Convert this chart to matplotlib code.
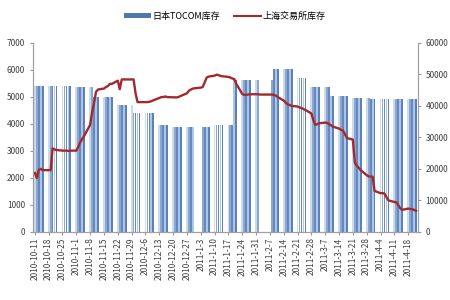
import numpy as np
import pandas as pd
import matplotlib
matplotlib.use('Agg')
import matplotlib.pyplot as plt
from matplotlib.patches import Patch
from matplotlib.lines import Line2D

plt.rcParams['font.family'] = ['Noto Sans CJK SC', 'DejaVu Sans']

nan = np.nan

# weekly tick labels (Mondays)
week_labels = ['2010-10-11', '2010-10-18', '2010-10-25', '2010-11-1', '2010-11-8',
               '2010-11-15', '2010-11-22', '2010-11-29', '2010-12-6', '2010-12-13',
               '2010-12-20', '2010-12-27', '2011-1-3', '2011-1-10', '2011-1-17',
               '2011-1-24', '2011-1-31', '2011-2-7', '2011-2-14', '2011-2-21',
               '2011-2-28', '2011-3-7', '2011-3-14', '2011-3-21', '2011-3-28',
               '2011-4-4', '2011-4-11', '2011-4-18']

# TOCOM stocks (left axis), Mon..Fri for each week
tocom = [
    5400, 5400, 5400, 5400, 5400,
    5400, 5400, 5400, 5400, 5400,
    5400, 5400, 5400, 5400, 5400,
    5350, 5350, 5350, 5350, 5350,
    5350, 5350, 5000, 5000, 5000,
    5000, 5000, 5000, 5000, 5000,
    4700, 4700, 4700, 4700, 4700,
    4700, 4400, 4400, 4400, 4400,
    4400, 4400, 4400, 4400, 4400,
    3950, 3950, 3950, 3950, 3950,
    3890, 3890, 3890, 3890, 3890,
    3890, 3890, 3890, 3890, nan,
    nan, 3890, 3890, 3890, 3890,
    3950, 3950, 3950, 3950, 3950,
    3950, 3950, 3950, 5630, 5630,
    5630, 5630, 5630, 5630, 5630,
    5630, 5630, nan, nan, nan,
    nan, 5630, 6040, 6040, 6040,
    6040, 6040, 6040, 6040, 6040,
    5700, 5700, 5700, 5700, 5700,
    5370, 5370, 5370, 5370, 5370,
    5370, 5370, 5370, 5030, 5030,
    5030, 5030, 5030, 5030, 5030,
    4960, 4960, 4960, 4960, 4960,
    4960, 4960, 4920, 4920, 4920,
    4920, 4920, 4920, 4920, 4920,
    4920, 4920, 4920, 4920, 4920,
    4920, 4920, 4920, 4920, 4920,
]

# Shanghai exchange stocks (right axis), Mon..Fri for each week
shfe = [
    18700, 17100, 19700, 20000, 19600,
    19600, 19600, 26500, 26200, 26000,
    25800, 25800, 25800, 25700, 25800,
    25800, 27000, 28500, 29500, 30500,
    34000, 38000, 41000, 44500, 45200,
    45500, 46000, 46300, 47000, 47000,
    48000, 45300, 48400, 48400, 48400,
    48400, 48400, 44000, 41200, 41200,
    41200, 41200, 41300, 41500, 41800,
    42500, 42800, 42800, 43000, 42800,
    42700, 42700, 42700, 42900, 43200,
    44000, 44800, 45200, 45500, 45600,
    45800, 46000, 47500, 49000, 49300,
    49600, 49900, 49800, 49500, 49400,
    49200, 49000, 48700, 48500, 47000,
    43800, 43500, 43500, 43600, 43700,
    43700, 43700, 43600, 43600, 43600,
    43600, 43600, 43500, 43300, 42800,
    41700, 41000, 40500, 40300, 40000,
    39800, 39500, 39300, 39000, 38700,
    37600, 35500, 34000, 34200, 34500,
    34700, 34600, 34200, 33800, 33400,
    32800, 32400, 32200, 31000, 29800,
    29300, 22000, 21000, 20300, 19600,
    18000, 17600, 17600, 17500, 13000,
    12300, 12300, 12200, 11000, 10000,
    9500, 9400, 8500, 7500, 7000,
    7400, 7300, 7200, 7000, 6700,
]

days = pd.bdate_range('2010-10-11', '2011-04-22')
tick_dates = pd.date_range('2010-10-11', '2011-04-18', freq='7D')

# mixed light/dark blues, like the gradient bars of the original
bar_colors = ['#ccdaee', '#88a8d2', '#6589be', '#afc5e3', '#5a81ba']
colors = [bar_colors[d.weekday()] for d in days]

fig = plt.figure(figsize=(4.5, 3), dpi=100)
ax = fig.add_axes([0.073, 0.227, 0.856, 0.63])
ax2 = ax.twinx()

ax.bar(days, tocom, width=0.9, color=colors, align='center')
ax2.plot(days, shfe, color='#a12a2e', linewidth=1.7)

ax.set_xlim(pd.Timestamp('2010-10-10'), pd.Timestamp('2011-04-23'))
ax.set_ylim(0, 7000)
ax2.set_ylim(0, 60000)
ax.set_yticks(range(0, 7001, 1000))
ax2.set_yticks(range(0, 60001, 10000))

ax.set_xticks(tick_dates)
ax.set_xticklabels(week_labels, rotation=90, fontsize=6, color='#404040')
ax.tick_params(axis='x', length=2, color='#999999', pad=2)
ax.tick_params(axis='y', labelsize=6, length=2, color='#999999', labelcolor='#404040')
ax2.tick_params(axis='y', labelsize=6, length=2, color='#999999', labelcolor='#404040')

for a in (ax, ax2):
    a.spines['top'].set_visible(False)
    for s in ('left', 'right', 'bottom'):
        a.spines[s].set_color('#a0a0a0')
        a.spines[s].set_linewidth(0.8)

handles = [Patch(facecolor='#4f77b0', edgecolor='none'),
           Line2D([0], [0], color='#a12a2e', linewidth=1.5)]
fig.legend(handles, ['日本TOCOM库存', '上海交易所库存'], loc='center',
           bbox_to_anchor=(0.5, 0.945), ncol=2, frameon=False, fontsize=6.5,
           handlelength=3, handleheight=0.5, columnspacing=1.5, handletextpad=0.2)

fig.savefig('out.png', dpi=100)
